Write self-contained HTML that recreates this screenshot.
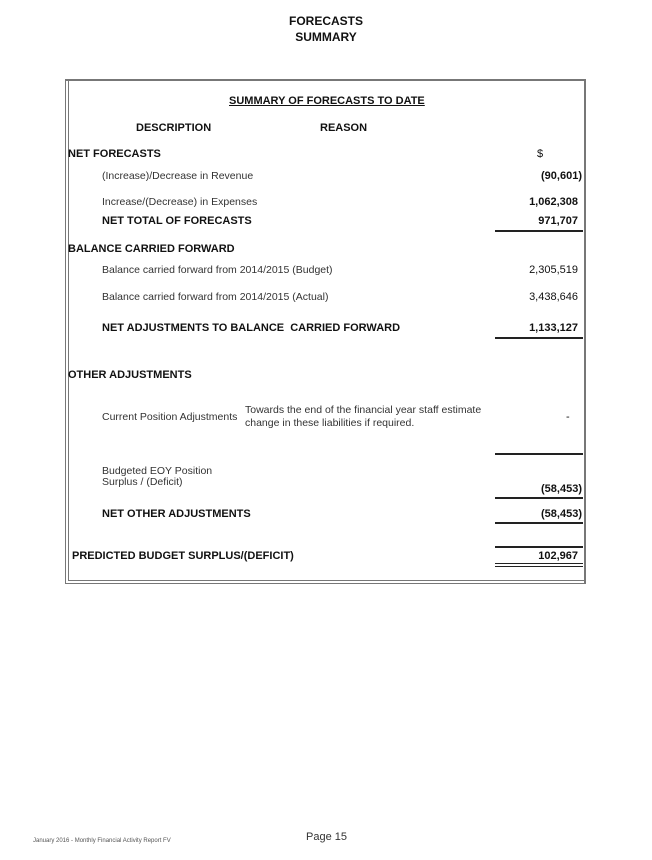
<!DOCTYPE html>
<html><head><style>
body{margin:0;width:652px;height:860px;background:#fff;position:relative;font-family:"Liberation Sans",Arial,sans-serif;color:#111;overflow:hidden}
.t{position:absolute;white-space:nowrap;font-size:11px;line-height:13px}
.b{font-weight:bold}
.r{text-align:right;width:120px}
.ln{position:absolute;background:#222;height:2px}
.g{color:#333;font-size:10.5px}
.bx{position:absolute;background:#777}
</style></head><body>
<div class="t b" style="left:0;width:652px;text-align:center;top:15px;font-size:12px">FORECASTS</div>
<div class="t b" style="left:0;width:652px;text-align:center;top:31px;font-size:12px">SUMMARY</div>

<div class="bx" style="left:65px;top:79px;width:521px;height:2px"></div>
<div class="bx" style="left:584px;top:79px;width:2px;height:505px"></div>
<div class="bx" style="left:65px;top:79px;width:1px;height:505px"></div>
<div class="bx" style="left:68px;top:79px;width:1px;height:502px"></div>
<div class="bx" style="left:65px;top:583px;width:521px;height:1px"></div>
<div class="bx" style="left:68px;top:580px;width:518px;height:1px"></div>

<div class="t b" style="left:229px;top:95px;text-decoration:underline">SUMMARY OF FORECASTS TO DATE</div>
<div class="t b" style="left:136px;top:122px">DESCRIPTION</div>
<div class="t b" style="left:320px;top:122px">REASON</div>

<div class="t b" style="left:68px;top:148px">NET FORECASTS</div>
<div class="t" style="left:537px;top:148px">$</div>
<div class="t g" style="left:102px;top:170px">(Increase)/Decrease in Revenue</div>
<div class="t b r" style="left:462px;top:170px">(90,601)</div>
<div class="t g" style="left:102px;top:196px">Increase/(Decrease) in Expenses</div>
<div class="t b r" style="left:458px;top:196px">1,062,308</div>
<div class="t b" style="left:102px;top:215px">NET TOTAL OF FORECASTS</div>
<div class="t b r" style="left:458px;top:215px">971,707</div>
<div class="ln" style="left:495px;top:230px;width:88px"></div>

<div class="t b" style="left:68px;top:243px">BALANCE CARRIED FORWARD</div>
<div class="t g" style="left:102px;top:264px">Balance carried forward from 2014/2015 (Budget)</div>
<div class="t r" style="left:458px;top:264px">2,305,519</div>
<div class="t g" style="left:102px;top:291px">Balance carried forward from 2014/2015 (Actual)</div>
<div class="t r" style="left:458px;top:291px">3,438,646</div>
<div class="t b" style="left:102px;top:322px">NET ADJUSTMENTS TO BALANCE&nbsp; CARRIED FORWARD</div>
<div class="t b r" style="left:458px;top:322px">1,133,127</div>
<div class="ln" style="left:495px;top:337px;width:88px"></div>

<div class="t b" style="left:68px;top:369px">OTHER ADJUSTMENTS</div>
<div class="t g" style="left:102px;top:411px">Current Position Adjustments</div>
<div class="t g" style="left:245px;top:404px">Towards the end of the financial year staff estimate</div>
<div class="t g" style="left:245px;top:417px">change in these liabilities if required.</div>
<div class="t" style="left:566px;top:411px">-</div>
<div class="ln" style="left:495px;top:453px;width:88px"></div>

<div class="t g" style="left:102px;top:465px">Budgeted EOY Position</div>
<div class="t g" style="left:102px;top:476px">Surplus / (Deficit)</div>
<div class="t b r" style="left:462px;top:483px">(58,453)</div>
<div class="ln" style="left:495px;top:497px;width:88px"></div>
<div class="t b" style="left:102px;top:508px">NET OTHER ADJUSTMENTS</div>
<div class="t b r" style="left:462px;top:508px">(58,453)</div>
<div class="ln" style="left:495px;top:522px;width:88px"></div>

<div class="ln" style="left:495px;top:546px;width:88px"></div>
<div class="t b" style="left:72px;top:550px">PREDICTED BUDGET SURPLUS/(DEFICIT)</div>
<div class="t b r" style="left:458px;top:550px">102,967</div>
<div style="position:absolute;left:495px;top:563px;width:88px;height:2px;border-top:1px solid #222;border-bottom:1px solid #222"></div>

<div class="t" style="left:33px;top:835px;font-size:6px;color:#555">January 2016 - Monthly Financial Activity Report FV</div>
<div class="t" style="left:306px;top:831px;font-size:11px;color:#333">Page 15</div>
</body></html>
